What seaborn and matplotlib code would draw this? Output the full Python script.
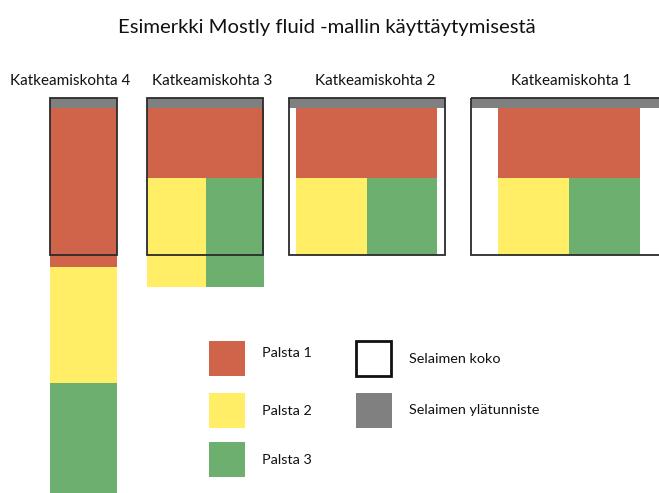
import matplotlib
matplotlib.use("Agg")
import matplotlib.pyplot as plt
import seaborn as sns
from matplotlib.patches import Rectangle

sns.set_theme(style="white")
plt.rcParams['font.family'] = ['Lato', 'DejaVu Sans']

# ---- data (diagram units = reference pixels) ----
title = "Esimerkki Mostly fluid -mallin käyttäytymisestä"
breakpoints = ["Katkeamiskohta 4", "Katkeamiskohta 3", "Katkeamiskohta 2", "Katkeamiskohta 1"]
label_x = [70, 212, 375, 571]
viewport_left = [50, 147, 289, 471]
viewport_width = [67, 116, 156, 260]
content_left = [50, 147, 296, 498]
content_width = [67, 117, 141, 142]
col1_height = [159, 70, 70, 70]
col2_height = [116, 109, 77, 77]
col3_height = [110, 109, 77, 77]
stacked = [True, False, False, False]

legend_labels = ["Palsta 1", "Palsta 2", "Palsta 3", "Selaimen koko", "Selaimen ylätunniste"]

RED = "#D0644A"
YELLOW = "#FFEE66"
GREEN = "#6DAF6E"
GRAY = "#808080"
EDGE = "#2b2b2b"

TOP = 98
HEADER = 10
VIEW_H = 157

fig = plt.figure(figsize=(6.59, 4.93), dpi=100)
ax = fig.add_axes([0, 0, 1, 1])
ax.set_xlim(0, 659)
ax.set_ylim(493, 0)
ax.axis("off")

for i, name in enumerate(breakpoints):
    cl, cw = content_left[i], content_width[i]
    y0 = TOP + HEADER
    ax.bar(cl, col1_height[i], width=cw, bottom=y0, align="edge", color=RED, linewidth=0, zorder=1)
    y1 = y0 + col1_height[i]
    if stacked[i]:
        ax.bar(cl, col2_height[i], width=cw, bottom=y1, align="edge", color=YELLOW, linewidth=0, zorder=1)
        ax.bar(cl, col3_height[i], width=cw, bottom=y1 + col2_height[i], align="edge", color=GREEN, linewidth=0, zorder=1)
    else:
        half = cw / 2
        ax.bar(cl, col2_height[i], width=half, bottom=y1, align="edge", color=YELLOW, linewidth=0, zorder=1)
        ax.bar(cl + half, col3_height[i], width=half, bottom=y1, align="edge", color=GREEN, linewidth=0, zorder=1)
    # browser header + frame
    ax.bar(viewport_left[i], HEADER, width=viewport_width[i], bottom=TOP, align="edge",
           color=GRAY, linewidth=0, zorder=2)
    ax.bar(viewport_left[i], VIEW_H, width=viewport_width[i], bottom=TOP, align="edge",
           fill=False, edgecolor=EDGE, linewidth=1.3, zorder=3)
    ax.text(label_x[i], 81, name, ha="center", va="center", fontsize=11, color="#111111")

ax.text(327, 27, title, ha="center", va="center", fontsize=14.6, color="#111111")

# legend
leg_colors = [RED, YELLOW, GREEN, None, GRAY]
leg_x = [209, 209, 209, 356, 356]
leg_y = [341, 393, 442, 341, 393]
leg_text_y = [353, 411, 460, 359, 410]
for lab, c, lx, ly, ty in zip(legend_labels, leg_colors, leg_x, leg_y, leg_text_y):
    if c is None:
        ax.add_patch(Rectangle((lx, ly), 35, 35, fill=False, edgecolor="#111111", linewidth=2, zorder=3))
    else:
        ax.add_patch(Rectangle((lx, ly), 36, 35, color=c, linewidth=0, zorder=3))
    ax.text(lx + 53, ty, lab, ha="left", va="center", fontsize=10.4, color="#111111")

fig.savefig("out.png", dpi=100)
